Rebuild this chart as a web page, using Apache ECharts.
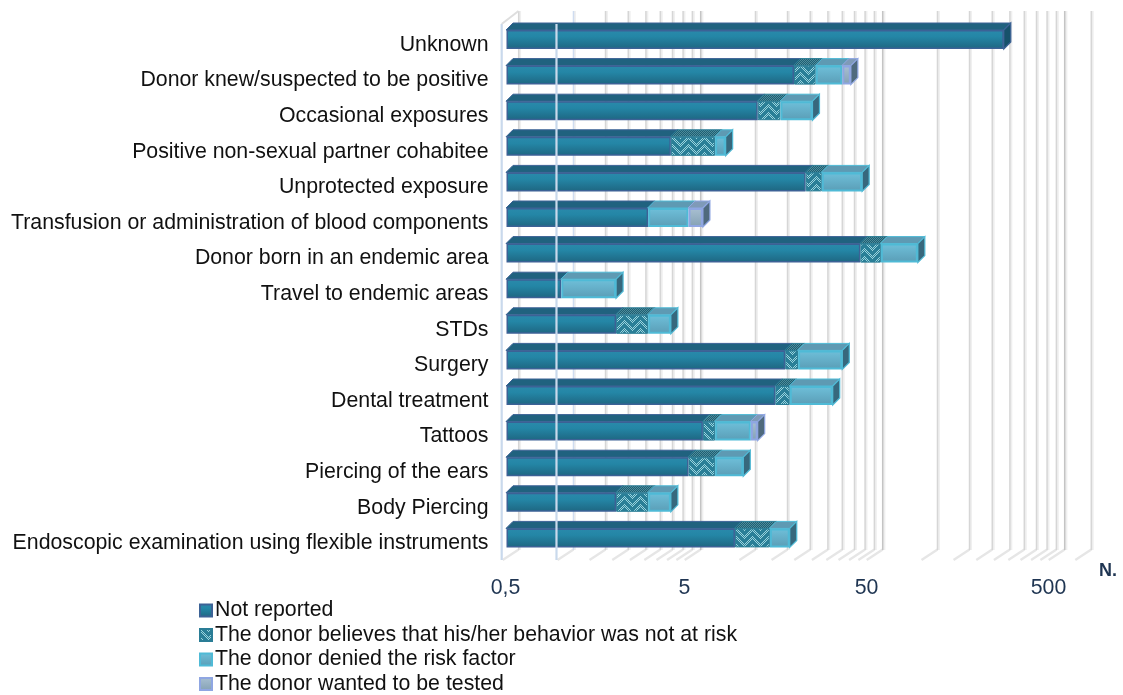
<!DOCTYPE html>
<html>
<head>
<meta charset="utf-8">
<style>html,body{margin:0;padding:0;background:#fff}#c{width:1123px;height:695px}</style>
<script src="https://cdn.jsdelivr.net/npm/echarts@6/dist/echarts.min.js"></script>
</head>
<body>
<div id="c"></div>
<script>
const categories = ["Unknown","Donor knew/suspected to be positive","Occasional exposures","Positive non-sexual partner cohabitee","Unprotected exposure","Transfusion or administration of blood components","Donor born in an endemic area","Travel to endemic areas","STDs","Surgery","Dental treatment","Tattoos","Piercing of the ears","Body Piercing","Endoscopic examination using flexible instruments"];
const notReported = [270,19,12,4,22,3,44,1,2,17,15,6,5,2,9];
const believes = [null,6,4,3,5,null,13,null,1,3,3,1,2,1,5];
const denied = [null,10,8,1,18,2,34,1,1,15,13,4,3,1,4];
const wanted = [null,4,null,null,null,1,null,null,null,null,null,1,null,null,null];
const seriesNames = ["Not reported","The donor believes that his/her behavior was not at risk","The donor denied the risk factor","The donor wanted to be tested"];
const tickLabels = [0.5,5,50,500];
const gridValues = [0.5,1,1.5,2,2.5,3,3.5,4,4.5,5,10,15,20,25,30,35,40,45,50,100,150,200,250,300,350,400,450,500,700];
const majorValues = [5,50,500];
const frontLines = [0.5,1];

function patternCanvas(bg, fg, pitch){
  const c=document.createElement('canvas');c.width=16;c.height=pitch*2;
  const g=c.getContext('2d');g.fillStyle=bg;g.fillRect(0,0,16,pitch*2);g.fillStyle=fg;
  for(let x=0;x<16;x++){
    const t=x<8?x:16-x;
    for(let k=0;k<2;k++){
      for(let w=0;w<3;w++){
        const y=(t+k*pitch+w)%(pitch*2);
        if((x+y)%2===0)g.fillRect(x,y,1,1);
      }
    }
  }
  return c;
}
const grad=(a,b,c)=>({type:'linear',x:0,y:0,x2:0,y2:1,colorStops:c?[{offset:0,color:a},{offset:.35,color:b},{offset:1,color:c}]:[{offset:0,color:a},{offset:1,color:b}]});
const frontStyles=[
 {color:grad('#2a8aab','#2486a6','#1e6681'),borderColor:'#3c6296',borderWidth:1.5},
 {color:{image:patternCanvas('#2a7f97','#9ad4de',8),repeat:'repeat'},borderColor:'#2a7d96',borderWidth:1},
 {color:grad('#6fc0da','#5a9db6'),borderColor:'#4fbad6',borderWidth:2},
 {color:grad('#a9c0d2','#84a1b4'),borderColor:'#8fa6e2',borderWidth:2}
];
const topColors=['#20627f',{image:patternCanvas('#1d5f74','#4f8c9a',3),repeat:'repeat'},'#5e9ab3','#7f9ab8'];
const sideColors=['#17526b','#1d5f74','#37687d','#4f6a7d'];
const edgeColors=['#3c6296','#2a7d96','#4fbad6','#8fa6e2'];
const values=[notReported,believes,denied,wanted];

const faceData=[];
categories.forEach((_,r)=>{
  let cum=0,last=-1;
  values.forEach((a,s)=>{if(a[r]!=null)last=s;});
  values.forEach((a,s)=>{
    if(a[r]==null)return;
    const start=cum===0?0.5:cum;cum+=a[r];
    faceData.push([start,cum,r,s,s===last?1:0]);
  });
});

const fs=21.3;
const option={
 animation:false,
 backgroundColor:'#fff',
 textStyle:{fontFamily:'"Liberation Sans",Arial,sans-serif'},
 grid:{left:506.5,top:21.7,width:572.6,height:534,containLabel:false},
 xAxis:{type:'log',logBase:10,min:0.5,max:700,startValue:0.5,
  axisLine:{show:false},axisTick:{show:false},splitLine:{show:false},minorSplitLine:{show:false},
  axisLabel:{customValues:tickLabels,fontSize:fs,color:'#1f3552',margin:22,padding:[0,8,0,0],hideOverlap:false,showMinLabel:true,showMaxLabel:true,
    formatter:v=>Math.abs(v-0.5)<1e-6?'{a|0,5}':String(Math.round(v)),
    rich:{a:{fontSize:fs,color:'#1f3552',padding:[0,0,0,6]}}}},
 yAxis:{type:'category',inverse:true,data:categories,
  axisLine:{show:false},axisTick:{show:false},splitLine:{show:false},
  axisLabel:{interval:0,fontSize:fs,color:'#111',margin:18,verticalAlign:'top',lineHeight:11}},
 legend:{show:true,orient:'vertical',left:199,top:600,padding:0,itemWidth:12,itemHeight:12,itemGap:3.5,icon:'rect',
  selectedMode:false,data:seriesNames,textStyle:{fontSize:fs,color:'#111',padding:[0,0,0,-2]}},
 graphic:[{type:'text',left:1099,top:562,style:{text:'N.',font:'bold 18px "Liberation Sans",Arial,sans-serif',fill:'#1f3552'}}],
 series:[
  {type:'custom',name:'wall',silent:true,z:0,clip:false,coordinateSystem:'cartesian2d',data:gridValues.map(v=>[v,0]),encode:{x:0,y:1},
   renderItem(p,api){
    const v=api.value(0),x=api.coord([v,0])[0];
    const bx=x+12.2,fx=x-4.8,major=majorValues.includes(v);
    const blue=(v===1);
    const c1=blue?'#cfdcf0':(major?'#c4c4c4':'#d6d6d6');
    return {type:'group',children:[
      {type:'line',shape:{x1:fx+1,y1:560,x2:bx,y2:549.5},style:{stroke:'#e6e6e6',lineWidth:2.4}},
      {type:'line',shape:{x1:bx+1.2,y1:11,x2:bx+1.2,y2:550},style:{stroke:'#efefef',lineWidth:major?3:2.4}},
      {type:'line',shape:{x1:bx,y1:11,x2:bx,y2:550},style:{stroke:c1,lineWidth:1.5}}
    ]};
   }},
  ...seriesNames.map((n,i)=>({type:'bar',name:n,stack:'total',barWidth:19,z:2,data:values[i],itemStyle:frontStyles[i],silent:true})),
  {type:'custom',name:'faces',silent:true,z:3,clip:false,coordinateSystem:'cartesian2d',data:faceData,encode:{x:[0,1],y:2},
   renderItem(p,api){
    const row=api.value(2),s=api.value(3),isLast=api.value(4);
    const a=api.coord([api.value(0),row]),b=api.coord([api.value(1),row]);
    const x0=a[0]-0.5,x1=b[0],yt=a[1]-9.5,yb=a[1]+9.5,dx=7,dy=7;
    const kids=[{type:'polygon',shape:{points:[[x0,yt],[x0+dx,yt-dy],[x1+dx,yt-dy],[x1,yt]]},style:{fill:topColors[s],stroke:edgeColors[s],lineWidth:1}}];
    if(isLast)kids.push({type:'polygon',shape:{points:[[x1,yt],[x1+dx,yt-dy],[x1+dx,yb-dy],[x1,yb]]},style:{fill:sideColors[s],stroke:edgeColors[s],lineWidth:1.2}});
    return {type:'group',children:kids};
   }},
  {type:'custom',name:'front',silent:true,z:6,clip:false,coordinateSystem:'cartesian2d',data:frontLines.map(v=>[v,0]),encode:{x:0,y:1},
   renderItem(p,api){
    const v=api.value(0),x=api.coord([v,0])[0]-4.8;
    const kids=[{type:'line',shape:{x1:x,y1:24,x2:x,y2:560},style:{stroke:'#c9d9ec',lineWidth:2.2}}];
    if(v===0.5)kids.push({type:'line',shape:{x1:x,y1:24,x2:x+16.8,y2:11},style:{stroke:'#dedede',lineWidth:2}});
    return {type:'group',children:kids};
   }}
 ]
};
echarts.init(document.getElementById('c'),null,{renderer:'canvas'}).setOption(option);
</script>
</body>
</html>
